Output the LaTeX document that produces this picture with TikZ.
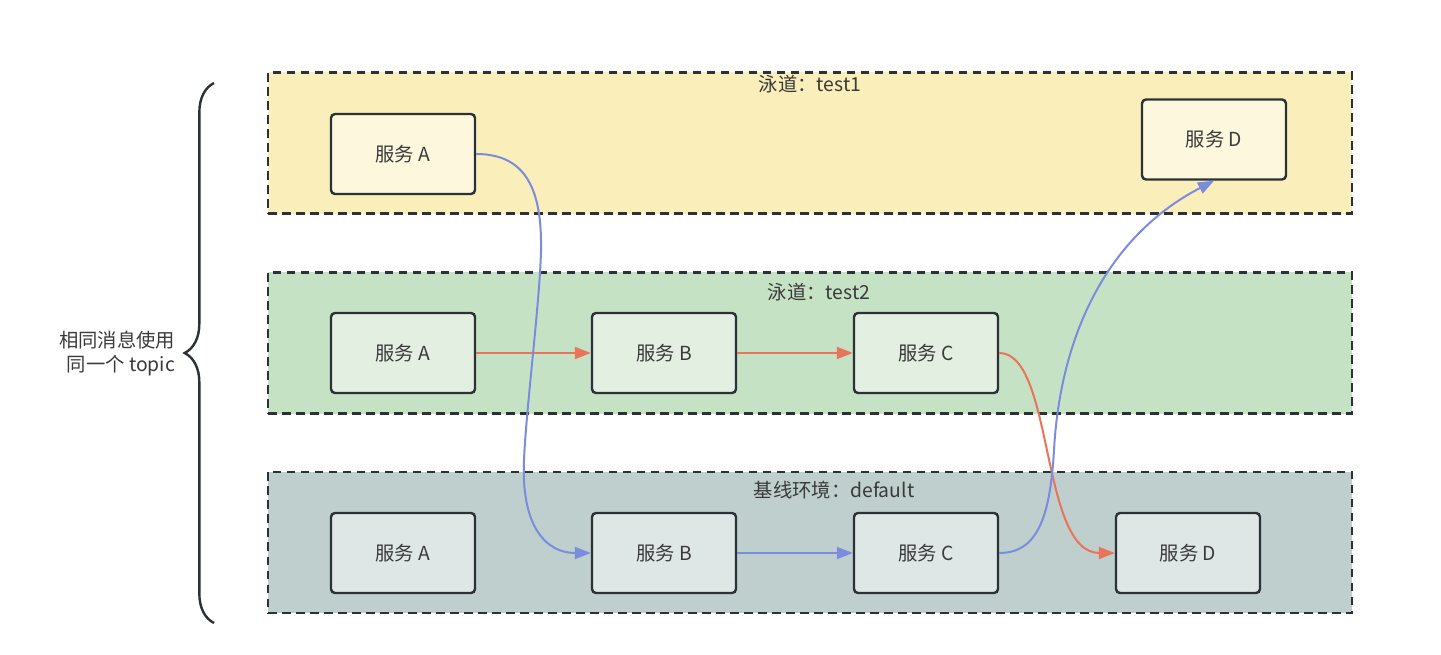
\documentclass[tikz,border=0pt]{standalone}
\usepackage{fontspec}
\setmainfont{Noto Sans CJK SC}
\usetikzlibrary{arrows.meta,decorations.pathreplacing}

\definecolor{lineCol}{HTML}{2B3136}
\definecolor{textCol}{HTML}{3A3A3A}
\definecolor{laneYellow}{HTML}{FAEFBA}
\definecolor{laneGreen}{HTML}{C6E2C4}
\definecolor{laneGrey}{HTML}{BECFCD}
\definecolor{boxYellow}{HTML}{FDF7DD}
\definecolor{boxGreen}{HTML}{E2EFE1}
\definecolor{boxGrey}{HTML}{DFE7E6}
\definecolor{flowBlue}{HTML}{7B8CDE}
\definecolor{flowRed}{HTML}{E9735B}

\begin{document}
\begin{tikzpicture}[x=0.75pt,y=-0.75pt,%%
  laneStyle/.style={draw=lineCol,line width=1.8pt,dash pattern=on 6.5pt off 4pt,
    minimum width=813pt,minimum height=106pt,inner sep=0pt},%%
  boxStyle/.style={draw=lineCol,line width=1.8pt,rounded corners=3pt,
    minimum width=108pt,minimum height=60pt,text=textCol},%%
  titleStyle/.style={text=textCol,inner sep=1pt},%%
  blueArrow/.style={draw=flowBlue,line width=1.5pt,-{Triangle[length=12pt,width=9pt]}},%%
  redArrow/.style={draw=flowRed,line width=1.5pt,-{Triangle[length=12pt,width=9pt]}}%%
]
\fontsize{14.5pt}{18pt}\selectfont
%%
\useasboundingbox (0,0) rectangle (1441,655);
%%
%% The three lanes, drawn first so the services sit on top.
\node[laneStyle,fill=laneYellow] (laneOne) at (810,143) {};
\node[laneStyle,fill=laneGreen] (laneTwo) at (810,343) {};
\node[laneStyle,fill=laneGrey] (laneBase) at (810,542.5) {};
\node[titleStyle] (titleOne) at (810,84) {泳道：test1};
\node[titleStyle] (titleTwo) at (819,292) {泳道：test2};
\node[titleStyle] (titleBase) at (834,490) {基线环境：default};
%%
%% Services of lane test1.
\node[boxStyle,fill=boxYellow] (oneA) at (403,154) {服务 A};
\node[boxStyle,fill=boxYellow] (oneD) at (1214,139.5) {服务 D};
%%
%% Services of lane test2.
\node[boxStyle,fill=boxGreen] (twoA) at (403,353) {服务 A};
\node[boxStyle,fill=boxGreen] (twoB) at (664,353) {服务 B};
\node[boxStyle,fill=boxGreen] (twoC) at (926,353) {服务 C};
%%
%% Services of the base lane.
\node[boxStyle,fill=boxGrey] (baseA) at (403,553) {服务 A};
\node[boxStyle,fill=boxGrey] (baseB) at (664,553) {服务 B};
\node[boxStyle,fill=boxGrey] (baseC) at (926,553) {服务 C};
\node[boxStyle,fill=boxGrey] (baseD) at (1188,553) {服务 D};
%%
%% Message flow of test2 (red).
\draw[redArrow] (twoA) -- (twoB);
\draw[redArrow] (twoB) -- (twoC);
\draw[redArrow] (twoC.east) .. controls +(55,0) and +(-75,0) .. (baseD.west);
%%
%% Message flow of test1 (blue).
\draw[blueArrow] (oneA.east) .. controls +(50,0) and (542,190) .. (541,250)
  .. controls (540,300) and (526,410) .. (524,460)
  .. controls (521,525) and (545,553) .. (baseB.west);
\draw[blueArrow] (baseB) -- (baseC);
\draw[blueArrow] (baseC.east) .. controls +(37,0) and (1050,520) .. (1054,450)
  .. controls (1060,340) and (1104,238) .. (oneD.south);
%%
%% Brace and note on the left.
\draw[lineCol,line width=1.8pt,decorate,decoration={brace,amplitude=22pt}]
  (214,623) -- (214,83);
\node[text=textCol,align=right] (topicNote) at (117,353) {相同消息使用\\同一个 topic};
\end{tikzpicture}
\end{document}
